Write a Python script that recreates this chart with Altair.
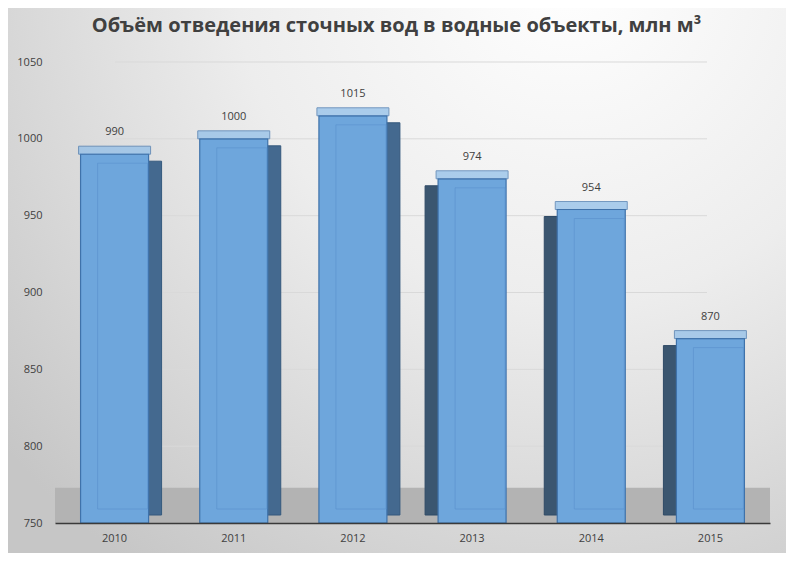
import altair as alt
import pandas as pd

years = ["2010", "2011", "2012", "2013", "2014", "2015"]
volumes = [990, 1000, 1015, 974, 954, 870]
y_ticks = [750, 800, 850, 900, 950, 1000, 1050]

source = pd.DataFrame({"year": years, "volume": volumes})
ticks_df = pd.DataFrame({"tick": y_ticks})
split = int(len(years) / 2)
left_years = years[:split]
right_years = years[split:]

x_enc = alt.X("year:N", sort=years, title=None,
              scale=alt.Scale(paddingInner=0.42, paddingOuter=0.21),
              axis=alt.Axis(labelAngle=0, labelFontSize=11, labelColor="#404040",
                            labelFont="Open Sans", labelPadding=9, ticks=False,
                            domainColor="#3a3a3a", domainWidth=1.5, zindex=1))
y_enc = alt.Y("volume:Q", title=None,
              scale=alt.Scale(domain=[750, 1050], nice=False, zero=False),
              axis=alt.Axis(values=y_ticks, format="d", labelFontSize=11, labelColor="#404040",
                            labelFont="Open Sans", labelPadding=13, ticks=False,
                            domain=False, grid=False, zindex=1))

base = alt.Chart(source)

# background panel with soft radial gradient
background = base.mark_rect(
    fill=alt.Gradient(gradient="radial", x1=0.72, y1=0.1, x2=0.72, y2=0.1, r1=0, r2=0.95,
                      stops=[alt.GradientStop(color="#ffffff", offset=0),
                             alt.GradientStop(color="#ededed", offset=0.45),
                             alt.GradientStop(color="#c6c6c6", offset=1)])
).encode(x=alt.value(-47), x2=alt.value(731), y=alt.value(-54), y2=alt.value(491))

grid = alt.Chart(ticks_df).mark_rule(color="#d9d9d9", strokeWidth=1).encode(
    y=alt.Y("tick:Q", scale=alt.Scale(domain=[750, 1050], nice=False, zero=False)),
    x=alt.value(60), x2=alt.value(652)
).transform_filter(alt.datum.tick > 750)

floor = base.mark_rect(color="#b3b3b3").encode(
    y=alt.datum(750), y2=alt.datum(773), x=alt.value(0), x2=alt.value(715)
).transform_filter(alt.datum.year == "2010")

side_right = base.mark_bar(width=14, xOffset=40, yOffset=7, y2Offset=-8,
                           color="#44698f", stroke="#35597d", strokeWidth=1).encode(
    x=x_enc, y=y_enc, y2=alt.datum(750)
).transform_filter(alt.FieldOneOfPredicate(field="year", oneOf=left_years))

side_left = base.mark_bar(width=14, xOffset=-40, yOffset=7, y2Offset=-8,
                          color="#3b5670", stroke="#2f4a66", strokeWidth=1).encode(
    x=x_enc, y=y_enc, y2=alt.datum(750)
).transform_filter(alt.FieldOneOfPredicate(field="year", oneOf=right_years))

top = base.mark_tick(size=72, thickness=8, yOffset=-4, color="#8dbde9",
                     stroke="#3f72aa", strokeWidth=1).encode(x=x_enc, y=y_enc)

front = base.mark_bar(width=68, color="#6ea6dc", stroke="#3f72aa", strokeWidth=1.2).encode(
    x=x_enc, y=y_enc, y2=alt.datum(750)
)

inner = base.mark_bar(width=50, xOffset=8, yOffset=9, y2Offset=-14, fill="transparent",
                      stroke="#5b93cf", strokeWidth=1, strokeOpacity=0.7).encode(
    x=x_enc, y=y_enc, y2=alt.datum(750)
)

labels = base.mark_text(dy=-22, fontSize=11, color="#404040", font="Open Sans").encode(
    x=x_enc, y=y_enc, text="volume:Q"
)

chart = alt.layer(
    background, grid, floor, side_right, side_left, front, inner, top, labels
).properties(
    width=715,
    height=461,
    autosize=alt.AutoSizeParams(type="none"),
    padding={"left": 47, "top": 54, "right": 16, "bottom": 30},
    background="#dcdcdc",
    title=alt.TitleParams(
        "Объём отведения сточных вод в водные объекты, млн м³",
        font="Open Sans", fontSize=20, fontWeight="bold", color="#404040",
        anchor="middle", dx=-16, dy=28, offset=0, zindex=1,
    ),
).configure_view(stroke=None)

chart.save("out.html", embed_options={"renderer": "svg", "actions": False})
